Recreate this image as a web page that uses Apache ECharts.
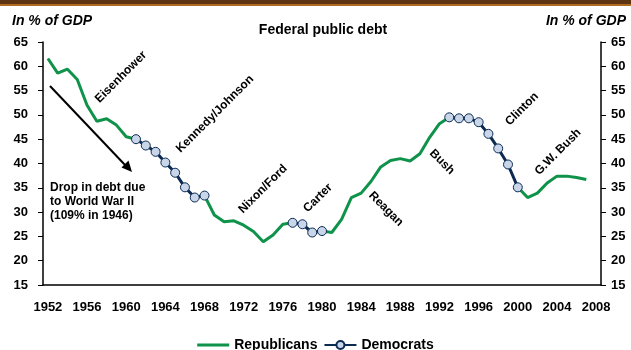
<!DOCTYPE html>
<html>
<head>
<meta charset="utf-8">
<script src="https://cdn.jsdelivr.net/npm/echarts@6/dist/echarts.min.js"></script>
<style>
html,body{margin:0;padding:0;background:#fff;}
#chart{width:631px;height:350px;}
</style>
</head>
<body>
<div id="chart"></div>
<script>
// Categories (years) on the x axis
const years = ['1952','1953','1954','1955','1956','1957','1958','1959','1960','1961',
  '1962','1963','1964','1965','1966','1967','1968','1969','1970','1971',
  '1972','1973','1974','1975','1976','1977','1978','1979','1980','1981',
  '1982','1983','1984','1985','1986','1987','1988','1989','1990','1991',
  '1992','1993','1994','1995','1996','1997','1998','1999','2000','2001',
  '2002','2003','2004','2005','2006','2007','2008'];

// Federal public debt, % of GDP, during Republican administrations
const republicans = [61.6,58.6,59.4,57.3,52.0,48.7,49.2,47.9,45.5,45.0,
  null,null,null,null,null,null,33.4,29.4,28.0,28.2,
  27.3,26.0,23.9,25.3,27.5,27.8,null,null,26.1,25.8,
  28.5,33.0,33.9,36.3,39.3,40.6,41.0,40.5,42.0,45.4,
  48.2,49.5,null,null,null,null,null,null,35.1,33.0,
  33.9,36.0,37.4,37.4,37.1,36.7,null];

// Federal public debt, % of GDP, during Democratic administrations
const democrats = [null,null,null,null,null,null,null,null,null,45.0,
  43.7,42.4,40.2,38.1,35.1,33.0,33.4,null,null,null,
  null,null,null,null,null,27.8,27.5,25.8,26.1,null,
  null,null,null,null,null,null,null,null,null,null,
  null,49.5,49.3,49.3,48.5,46.1,43.1,39.8,35.1,null,
  null,null,null,null,null,null,null];

// Presidency labels
const presidents = ['Eisenhower','Kennedy/Johnson','Nixon/Ford','Carter','Reagan','Bush','Clinton','G.W. Bush'];

const FONT = 'Liberation Sans, Arial, sans-serif';
const GREEN = '#0f9249';
const NAVY = '#0c2b52';

const chart = echarts.init(document.getElementById('chart'), null, {renderer:'canvas'});

const labelPos = [
  [121,77,1],[215,114,1],[263,189,1],[318,198,1],
  [386,209,-1],[442,162,-1],[522,109,1],[558,152,1]
];

const graphics = [
  {type:'rect', shape:{x:0,y:0,width:631,height:4}, style:{fill:'#5e3512'}, silent:true},
  {type:'rect', shape:{x:0,y:4,width:631,height:2}, style:{fill:'#b06a22'}, silent:true},
  {type:'text', x:12, y:21, style:{text:'In % of GDP', font:'italic bold 14px '+FONT, fill:'#000', verticalAlign:'middle', align:'left'}},
  {type:'text', x:626, y:21, style:{text:'In % of GDP', font:'italic bold 14px '+FONT, fill:'#000', verticalAlign:'middle', align:'right'}},
  {type:'text', x:323, y:30, style:{text:'Federal public debt', font:'bold 14px '+FONT, fill:'#000', verticalAlign:'middle', align:'center'}},
  {type:'text', x:50, y:181, style:{text:'Drop in debt due\nto World War II\n(109% in 1946)', font:'bold 12px '+FONT, lineHeight:14, fill:'#000', verticalAlign:'top', align:'left'}},
  {type:'line', shape:{x1:50,y1:86,x2:126,y2:166}, style:{stroke:'#000', lineWidth:2}},
  {type:'polygon', shape:{points:[[132,172],[121.5,167.5],[128.5,160.5]]}, style:{fill:'#000'}}
];
presidents.forEach((p,i)=>{
  const [x,y,dir] = labelPos[i];
  graphics.push({type:'text', x:x, y:y, rotation: dir*Math.PI/4,
    style:{text:p, font:'bold 12px '+FONT, fill:'#000', align:'center', verticalAlign:'middle'}});
});

chart.setOption({
  animation:false,
  backgroundColor:'#fff',
  grid:{left:43, right:30, top:42, bottom:65, containLabel:false},
  legend:{
    top:333, left:'center', itemWidth:32, itemHeight:10, itemGap:6,
    textStyle:{fontFamily:FONT, fontWeight:'bold', fontSize:14, color:'#000'},
    data:[{name:'Republicans', icon:'path://M0,4 L32,4 L32,7 L0,7 Z'}, {name:'Democrats'}]
  },
  xAxis:{
    type:'category', data:years, boundaryGap:true,
    axisLine:{show:true, lineStyle:{color:'#000', width:1.5}},
    axisTick:{show:false},
    axisLabel:{interval:3, margin:16, fontFamily:FONT, fontWeight:'bold', fontSize:13, color:'#000'}
  },
  yAxis:[
    {type:'value', min:15, max:65, interval:5, position:'left',
     splitLine:{show:false},
     axisLine:{show:true, lineStyle:{color:'#000', width:1.5}},
     axisTick:{show:true, length:5, lineStyle:{color:'#000'}},
     axisLabel:{margin:15, fontFamily:FONT, fontWeight:'bold', fontSize:13, color:'#000'}},
    {type:'value', min:15, max:65, interval:5, position:'right',
     splitLine:{show:false},
     axisLine:{show:true, lineStyle:{color:'#000', width:1.5}},
     axisTick:{show:true, length:5, lineStyle:{color:'#000'}},
     axisLabel:{margin:10, fontFamily:FONT, fontWeight:'bold', fontSize:13, color:'#000'}}
  ],
  series:[
    {name:'Republicans', type:'line', data:republicans, symbol:'none', connectNulls:false,
     lineStyle:{color:GREEN, width:3}, itemStyle:{color:GREEN}, z:2},
    {name:'Democrats', type:'line', data:democrats, symbol:'circle', symbolSize:9, showAllSymbol:true, connectNulls:false,
     lineStyle:{color:NAVY, width:3}, itemStyle:{color:'#c9d6ea', borderColor:NAVY, borderWidth:1}, z:3}
  ],
  graphic:graphics
});
</script>
</body>
</html>
